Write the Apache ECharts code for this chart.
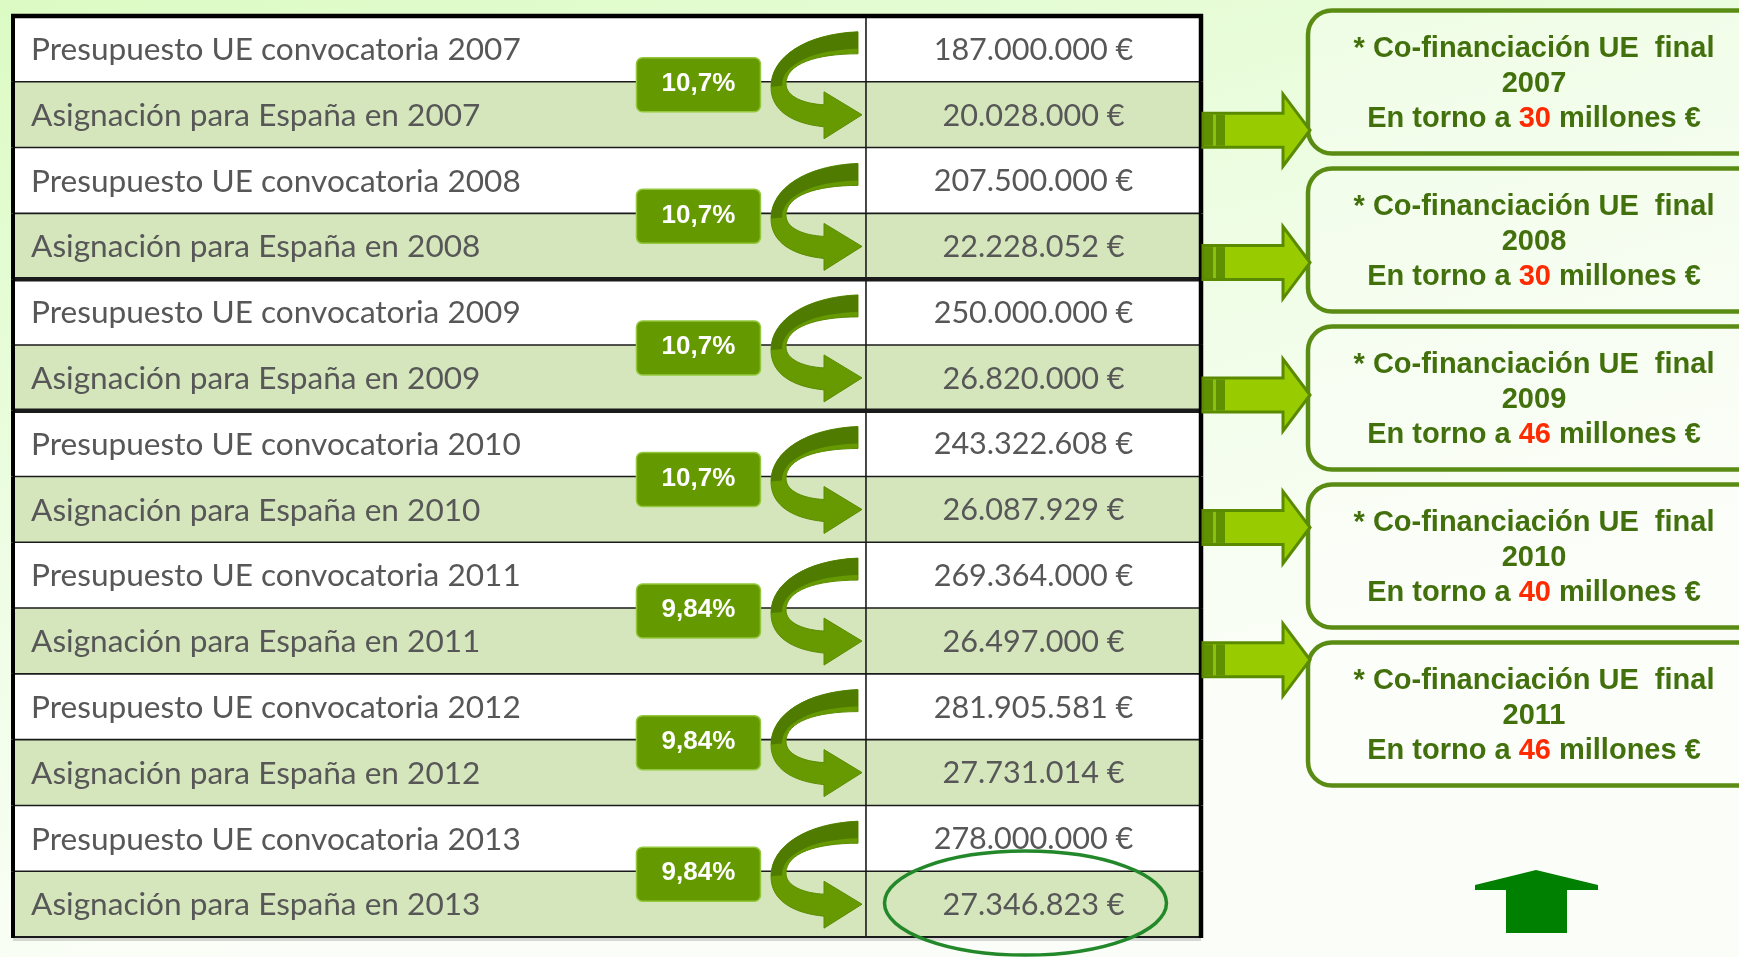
<!DOCTYPE html>
<html><head><meta charset="utf-8">
<script src="https://cdn.jsdelivr.net/npm/echarts@6/dist/echarts.min.js"></script>
<style>html,body{margin:0;padding:0;}#c{width:1739px;height:957px;}</style>
</head><body><div id="c"></div>
<script>
// ---------------- DATA ----------------
const years = ['2007','2008','2009','2010','2011','2012','2013'];
const presupuesto = [187000000, 207500000, 250000000, 243322608, 269364000, 281905581, 278000000];
const asignacion = [20028000, 22228052, 26820000, 26087929, 26497000, 27731014, 27346823];
const porcentajes = ['10,7%','10,7%','10,7%','10,7%','9,84%','9,84%','9,84%'];
const finalYears = ['2007','2008','2009','2010','2011'];
const finalMillones = [30, 30, 46, 40, 46];
const highlightYear = '2013';
const thickAfterYears = ['2008','2009'];

// ---------------- helpers ----------------
function fmt(v){ return String(v).replace(/\B(?=(\d{3})+(?!\d))/g,'.') + ' €'; }
const rowLabels = [], rowValues = [], rowYear = [];
years.forEach((y,i)=>{
  rowLabels.push('Presupuesto UE convocatoria ' + y); rowValues.push(presupuesto[i]); rowYear.push(y);
  rowLabels.push('Asignación para España en ' + y); rowValues.push(asignacion[i]); rowYear.push(y);
});
const mctx = document.createElement('canvas').getContext('2d');
function fitSize(text, font, target){ mctx.font = font.replace('{s}','100px'); return 100*target/mctx.measureText(text).width; }
const LABEL_FAM = 'Lato, "Open Sans", sans-serif';
const labelSize = fitSize('Presupuesto UE convocatoria 2007', '{s} ' + LABEL_FAM, 490);
const valueSize = fitSize('187.000.000 €', '{s} ' + LABEL_FAM, 200);
const TEXT_GRAY = '#575757';
const COL = 0.718;      // column split (x-axis units of table grid)
const BADGE_CX = 0.577; // badge centre (x-axis units)

function arrowPath(xr, y0){
  const P=(dx,dy)=>(xr+dx).toFixed(1)+' '+(y0+dy).toFixed(1);
  return 'M'+P(-8,-50)+' C'+P(-60,-48)+' '+P(-95,-25)+' '+P(-95,5)+
    ' C'+P(-95,30)+' '+P(-72,42)+' '+P(-42,45)+
    ' L'+P(-42,57)+' L'+P(-4,33)+' L'+P(-42,10)+' L'+P(-42,23)+
    ' C'+P(-62,22)+' '+P(-80,15)+' '+P(-80,2)+
    ' C'+P(-80,-18)+' '+P(-50,-28)+' '+P(-8,-28)+' Z';
}
function arrowTopPath(xr, y0){
  const P=(dx,dy)=>(xr+dx).toFixed(1)+' '+(y0+dy).toFixed(1);
  return 'M'+P(-8,-50)+' C'+P(-60,-48)+' '+P(-95,-25)+' '+P(-95,5)+
    ' L'+P(-84,4)+' C'+P(-84,-18)+' '+P(-52,-32)+' '+P(-8,-33)+' Z';
}

// ---------------- chart ----------------
const chart = echarts.init(document.getElementById('c'), null, {renderer:'canvas'});
const option = {
  animation: false,
  backgroundColor: {type:'linear', x:0, y:0, x2:0.15, y2:1, colorStops:[{offset:0,color:'#dbfbc3'},{offset:0.55,color:'#eefde4'},{offset:1,color:'#fbfef8'}]},
  grid: [
    {left: 13, top: 16, width: 1188, height: 921},
    {left: 1308, top: 3, width: 431, height: 790},
    {left: 1203, top: 64, width: 110, height: 662}
  ],
  xAxis: [
    {gridIndex:0, type:'value', min:0, max:1, show:false},
    {gridIndex:1, type:'value', min:0, max:1, show:false},
    {gridIndex:2, type:'value', min:0, max:1, show:false}
  ],
  yAxis: [
    {gridIndex:0, type:'category', data: rowLabels, inverse:true, show:false},
    {gridIndex:1, type:'category', data: finalYears, inverse:true, show:false},
    {gridIndex:2, type:'category', data: finalYears, inverse:true, show:false}
  ],
  series: [
    { // table rows
      type:'custom', xAxisIndex:0, yAxisIndex:0, z:2,
      encode:{x:0, y:1},
      data: rowValues.map((v,i)=>[0.5, i, v]),
      renderItem(params, api){
        const i = api.value(1), v = api.value(2);
        const cs = params.coordSys;
        const yc = api.coord([0, i])[1];
        const h = api.size([0, 1])[1];
        const x0 = cs.x, x1 = cs.x + cs.width;
        const xr = api.coord([COL, i])[0];
        const isAsig = i % 2 === 1;
        const top = yc - h/2, bot = yc + h/2;
        const last = i === rowLabels.length - 1;
        const thick = isAsig && thickAfterYears.indexOf(rowYear[i]) >= 0;
        const ch = [
          {type:'rect', z2:0, shape:{x:x0, y:top, width:x1-x0, height:h}, style:{fill: isAsig ? '#d5e6bd' : '#ffffff'}},
          {type:'text', z2:5, style:{text: rowLabels[i], x: x0+18, y: yc+1, fill: TEXT_GRAY, font: labelSize.toFixed(1)+'px '+LABEL_FAM, align:'left', verticalAlign:'middle'}},
          {type:'text', z2:5, style:{text: fmt(v), x: (xr+x1)/2, y: yc+1, fill: TEXT_GRAY, font: valueSize.toFixed(1)+'px '+LABEL_FAM, align:'center', verticalAlign:'middle'}},
          {type:'line', z2:10, shape:{x1:x0, y1:bot, x2:x1, y2:bot}, style:{stroke: '#1a1a1a', lineWidth: thick ? 4.5 : (last ? 2 : 1.6)}},
          {type:'line', z2:10, shape:{x1:xr, y1:top, x2:xr, y2:bot}, style:{stroke:'#1a1a1a', lineWidth:1.6}},
          {type:'line', z2:12, shape:{x1:x0, y1:top-(i===0?2:0), x2:x0, y2:bot+(last?1:0)}, style:{stroke:'#000', lineWidth:4}},
          {type:'line', z2:12, shape:{x1:x1, y1:top-(i===0?2:0), x2:x1, y2:bot+(last?1:0)}, style:{stroke:'#000', lineWidth:4.5}}
        ];
        if (i === 0) ch.push({type:'line', z2:12, shape:{x1:x0-2, y1:top, x2:x1+2, y2:top}, style:{stroke:'#000', lineWidth:4.5}});
        if (last) ch.push({type:'line', z2:11, shape:{x1:x0, y1:bot+2.5, x2:x1, y2:bot+2.5}, style:{stroke:'rgba(0,0,0,0.15)', lineWidth:3}});
        if (isAsig && rowYear[i] === highlightYear) {
          ch.push({type:'ellipse', z2:20, shape:{cx:(xr+x1)/2-8, cy:yc-1, rx:141, ry:52}, style:{fill:'none', stroke:'#23882a', lineWidth:3.5}});
        }
        return {type:'group', children: ch};
      }
    },
    { // percentage badges + curved arrows
      type:'custom', xAxisIndex:0, yAxisIndex:0, z:5,
      encode:{x:0, y:1},
      data: years.map((y,i)=>[BADGE_CX, 2*i, i]),
      renderItem(params, api){
        const k = api.value(2);
        const h = api.size([0,1])[1];
        const y0 = api.coord([0, 2*k])[1] + h/2;
        const xr = api.coord([COL, 2*k])[0];
        const bx = api.coord([BADGE_CX, 2*k])[0];
        const bw = 124, bh = 54;
        return {type:'group', children:[
          {type:'path', shape:{pathData: arrowPath(xr, y0)}, style:{fill:'#669a00', stroke:'#5b8c00', lineWidth:1}},
          {type:'path', shape:{pathData: arrowTopPath(xr, y0)}, style:{fill:'#4f7c00'}},
          {type:'rect', shape:{x:bx-bw/2, y:y0+3-bh/2, width:bw, height:bh, r:6}, style:{fill:'#659900', stroke:'#94c83c', lineWidth:1.5}},
          {type:'text', style:{text: porcentajes[k], x: bx, y: y0+2, fill:'#ffffff', font:'bold 26px "Liberation Sans", Arial, sans-serif', align:'center', verticalAlign:'middle'}}
        ]};
      }
    },
    { // callout boxes
      type:'custom', xAxisIndex:1, yAxisIndex:1, z:3,
      encode:{x:0, y:1},
      data: finalYears.map((y,i)=>[0, i, finalMillones[i]]),
      renderItem(params, api){
        const i = api.value(1), m = api.value(2);
        const cs = params.coordSys;
        const yc = api.coord([0, i])[1];
        const bh = 143;
        const sh = {textShadowColor:'rgba(20,35,0,0.85)', textShadowOffsetX:2, textShadowOffsetY:2, textShadowBlur:0};
        const g = Object.assign({fill:'#42700c', font:'bold 29px "Liberation Sans", Arial, sans-serif', lineHeight:35}, sh);
        const r = Object.assign({fill:'#ff2a00', font:'bold 29px "Liberation Sans", Arial, sans-serif', lineHeight:35}, sh);
        return {type:'group', children:[
          {type:'rect', shape:{x:cs.x, y:yc-bh/2, width:cs.width+40, height:bh, r:24}, style:{fill:'rgba(255,255,255,0.32)', stroke:'#5a8c14', lineWidth:4.5}},
          {type:'text', style:{
            text:'{g|* Co-financiación UE  final}\n{g|' + finalYears[i] + '}\n{g|En torno a }{r|' + m + '}{g| millones €}',
            x: cs.x + 226, y: yc + 2, align:'center', verticalAlign:'middle',
            rich:{g:g, r:r}
          }}
        ]};
      }
    },
    { // block arrows pointing to the callouts
      type:'custom', xAxisIndex:2, yAxisIndex:2, z:4,
      encode:{x:0, y:1},
      data: finalYears.map((y,i)=>[0, i]),
      renderItem(params, api){
        const i = api.value(1);
        const cs = params.coordSys;
        const yc = api.coord([0, i])[1];
        const x0 = cs.x;
        const pts = [[x0,yc-17],[x0+80,yc-17],[x0+80,yc-36],[x0+107,yc],[x0+80,yc+36],[x0+80,yc+17],[x0,yc+17]];
        return {type:'group', children:[
          {type:'polygon', shape:{points:pts}, style:{fill:'#99cc00', stroke:'#5a8a00', lineWidth:3, lineJoin:'miter'}},
          {type:'rect', shape:{x:x0+1, y:yc-15.5, width:21, height:31}, style:{fill:'#5f9000'}},
          {type:'rect', shape:{x:x0+10, y:yc-15.5, width:3, height:31}, style:{fill:'#8cbf10'}}
        ]};
      }
    }
  ],
  graphic: [
    {type:'polygon', z:10, shape:{points:[[1475,890],[1475,885],[1536,870],[1598,885],[1598,890],[1567,890],[1567,933],[1506,933],[1506,890]]}, style:{fill:'#008000'}}
  ]
};
chart.setOption(option);
</script>
</body></html>
